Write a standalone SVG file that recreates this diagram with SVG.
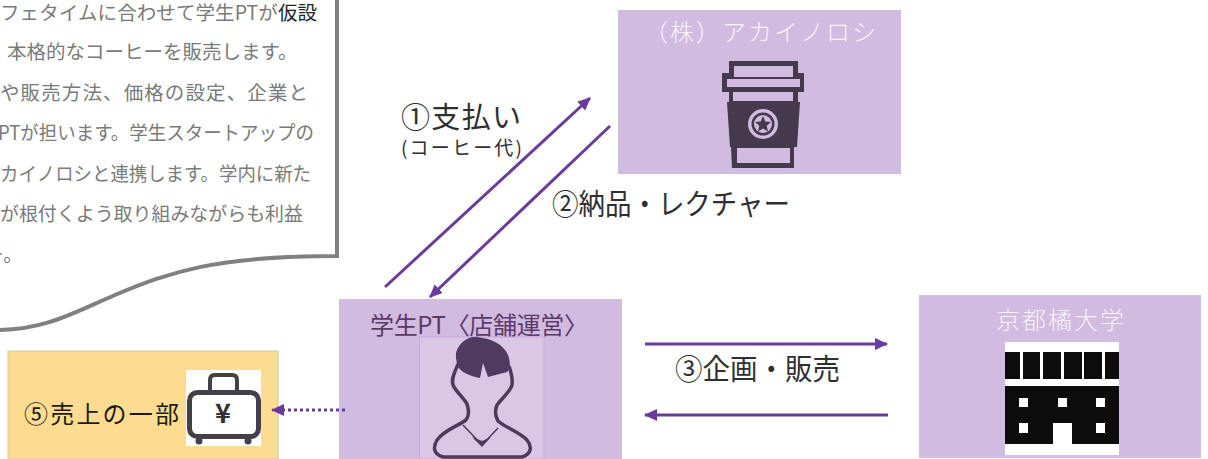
<svg xmlns="http://www.w3.org/2000/svg" width="1208" height="459" viewBox="0 0 1208 459">
<defs>
<marker id="ah" markerUnits="userSpaceOnUse" markerWidth="14" markerHeight="12" refX="12" refY="6" orient="auto"><path d="M0 0L13 6L0 12Z" fill="#6a3a9c"/></marker>
</defs>
<style>
text{font-family:"Noto Sans CJK JP","Liberation Sans",sans-serif}
.box{fill:#d1bbe0}
.n{fill:#7a7a7a;font-size:19.5px}
.l{fill:#2f2f2f;font-size:29px}
.w{fill:#f8f2fb;font-size:24px;font-weight:300}
.c{fill:none;stroke:#6a3a9c;stroke-width:3;marker-end:url(#ah)}
.ic{fill:#453a4d}
</style>
<rect width="1208" height="459" fill="#fff"/>
<g id="note">
<path d="M-3 330C45 330 75 312 115 295C170 272 215 256 337 256V-5" fill="#fff" stroke="#808080" stroke-width="4"/>
<text class="n" x="0" y="20" textLength="317">フェタイムに合わせて学生PTが<tspan fill="#222">仮設</tspan></text>
<text class="n" x="7" y="59">本格的なコーヒーを販売します。</text>
<text class="n" x="0" y="100" textLength="308">や販売方法、価格の設定、企業と</text>
<text class="n" x="-2" y="140" textLength="316" lengthAdjust="spacingAndGlyphs">PTが担います。学生スタートアップの</text>
<text class="n" x="0" y="181" textLength="311" lengthAdjust="spacingAndGlyphs">カイノロシと連携します。学内に新た</text>
<text class="n" x="0" y="221" textLength="303" lengthAdjust="spacingAndGlyphs">が根付くよう取り組みながらも利益</text>
<text class="n" x="-16" y="262">ー。</text>
</g>
<g id="node-akainoroshi">
<rect class="box" x="618" y="10" width="283" height="164"/>
<text class="w" x="644" y="41" textLength="232">（株）アカイノロシ</text>
<path class="ic" fill-rule="evenodd" d="M729 61H798V73H804V92H798V102H800L797 147H794L794 168H732L731 147H730L727 102H729V92H722V73H729ZM734 66V77H793V66ZM727 79V87H800V79ZM733 92V101H793V92ZM737 148V163H790V148Z"/>
<circle cx="763" cy="124" r="15" fill="#d1bbe0"/><circle cx="763" cy="124" r="11.500" fill="#453a4d"/><circle cx="763" cy="124" r="9" fill="#d1bbe0"/>
<path class="ic" d="M763 116L765.300 121.500L771 122L766.700 125.800L768 131.500L763 128.500L758 131.500L759.300 125.800L755 122L760.700 121.500Z"/>
</g>
<g id="node-student">
<rect class="box" x="339" y="299" width="283" height="160"/>
<rect x="419.500" y="337" width="124.500" height="122" fill="#d9c7e5" stroke="#c8a6de"/>
<text x="370" y="334" font-size="24" fill="#5c3a68" textLength="218">学生PT〈店舗運営〉</text>
<path d="M458 364C455 372 451 378 453 385C456 392 464 398 467 404C469 410 469 416 466 420C458 426 444 430 437 440C433 447 433 454 443 457H522C532 454 532 446 527 440C520 432 506 428 498 421C495 416 495 410 497 405C502 398 510 392 512 385C513 378 511 372 509 366" fill="none" stroke="#4b3a5c" stroke-width="3.500"/>
<path d="M473 337C488 337 503 343 508 355C511 363 510 369 507 372L488 377L483 363L480 378C470 376 461 372 458 367C456 360 455 354 457 350C460 343 466 338 473 337Z" fill="#4f3a60"/>
<path d="M463 425L482 445L498 428" fill="none" stroke="#4b3a5c" stroke-width="1.500"/>
<path d="M472 437L482 447L491 437L482 441Z" fill="#4f3a60"/>
</g>
<g id="node-university">
<rect class="box" x="919" y="295" width="282" height="163"/>
<text class="w" x="996" y="329" textLength="128">京都橘大学</text>
<rect x="1005" y="342" width="114" height="113" fill="#fff"/>
<path d="M1005 352H1020V379H1005ZM1023 352H1040V379H1023ZM1043 352H1061V379H1043ZM1064 352H1082V379H1064ZM1084 352H1102V379H1084ZM1105 352H1119V379H1105ZM1005 386H1119V444H1072V423H1053V444H1005Z" fill="#0c0c0c"/>
<path d="M1019 398H1028V407H1019ZM1058 398H1067V407H1058ZM1096 398H1105V407H1096ZM1019 423H1028V433H1019ZM1096 423H1105V433H1096Z" fill="#fff"/>
</g>
<g id="node-sales">
<rect x="8" y="351" width="270" height="108" fill="#fbdc90" stroke="#cfc7b0"/>
<text x="24" y="423" font-size="24" fill="#1e1a10" textLength="155">⑤売上の一部</text>
<rect x="186" y="370" width="75" height="76" fill="#fff"/>
<rect x="189.500" y="392.500" width="69" height="44" rx="8" fill="none" stroke="#444048" stroke-width="5"/>
<path d="M210 392V380Q210 375 215 375H232Q237 375 237 380V392" fill="none" stroke="#444048" stroke-width="4"/>
<circle cx="199" cy="441" r="3.500" fill="#444048"/><circle cx="248" cy="441" r="3.500" fill="#444048"/>
<text x="223" y="423" font-size="27" font-weight="700" fill="#333" text-anchor="middle">¥</text>
</g>
<g id="connectors">
<path class="c" d="M385 287L590 98"/>
<path class="c" d="M610 126L430 297"/>
<path class="c" d="M645 344H887"/>
<path class="c" d="M888 415H645"/>
<path class="c" d="M345 410H272" stroke-dasharray="3 3"/>
</g>
<g id="labels">
<text class="l" x="401" y="128" textLength="120">①支払い</text>
<text x="401" y="155" font-size="19" fill="#2f2f2f" textLength="121">(コーヒー代)</text>
<text class="l" x="552" y="215" textLength="238" lengthAdjust="spacingAndGlyphs">②納品・レクチャー</text>
<text class="l" x="675" y="380" textLength="165" lengthAdjust="spacingAndGlyphs">③企画・販売</text>
</g>
</svg>
